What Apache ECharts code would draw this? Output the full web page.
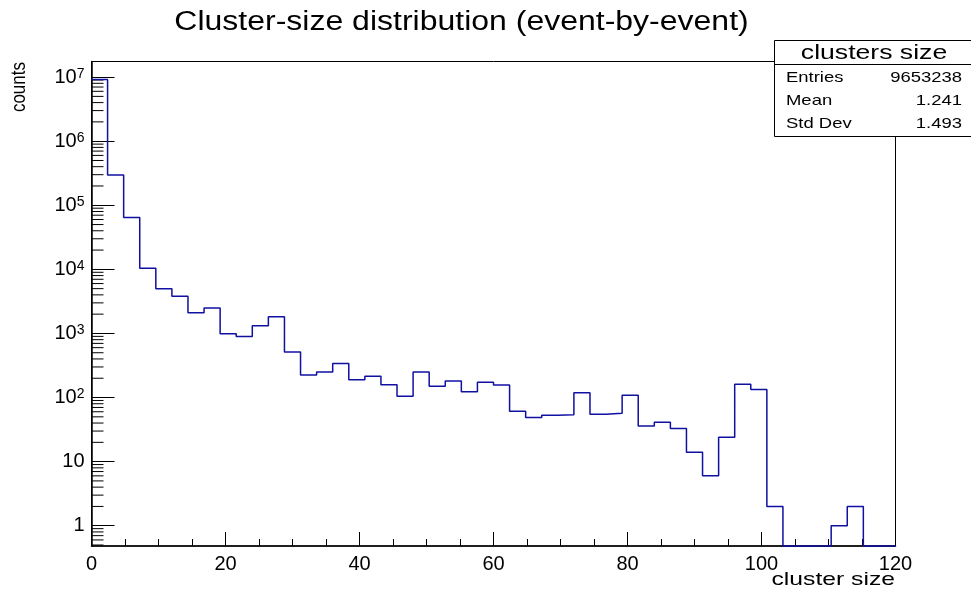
<!DOCTYPE html>
<html>
<head>
<meta charset="utf-8">
<title>Cluster-size distribution</title>
<script src="https://cdn.jsdelivr.net/npm/echarts@6/dist/echarts.min.js"></script>
<style>
  html, body { margin: 0; padding: 0; background: #fff; }
  #chart { width: 971px; height: 595px; }
</style>
</head>
<body>
<div id="chart"></div>
<script>
// Histogram binning: 50 bins of width 2.4 starting at 0
const binLow = 0;
const binWidth = 2.4;

// Counts per bin (0 = empty bin)
const counts = [
  9200000, 296000, 64700, 10400, 4980, 3800, 2100, 2490, 990, 900,
  1320, 1820, 513, 224, 250, 341, 190, 214, 158, 105,
  250, 150, 181, 123, 173, 157, 61, 49, 53, 54,
  119, 55, 57, 109, 36, 41, 33, 14, 6, 24,
  161, 134, 2, 0, 0, 0, 1, 2, 0, 0
];

// Statistics box
const statsTitle = 'clusters size';
const statsLabels = ['Entries', 'Mean', 'Std Dev'];
const statsValues = ['9653238', '1.241', '1.493'];

// Axis ranges and texts
const xRange = [0, 120];
const yRange = [0.4825, 1.751e7];
const chartTitle = 'Cluster-size distribution (event-by-event)';
const xTitle = 'cluster size';
const yTitle = 'counts';

const FONT = '"Liberation Sans", Arial, Helvetica, sans-serif';
const LINE_COLOR = '#1010a2';

// Step outline of the histogram: one point per lower bin edge, plus the final edge.
// Empty bins sit on the bottom of the log axis.
const floorOf = c => (c > 0 ? c : yRange[0]);
const edge = i => Math.round((binLow + i * binWidth) * 1000) / 1000;
const outline = counts.map((c, i) => [edge(i), floorOf(c)]);
outline.push([edge(counts.length), floorOf(counts[counts.length - 1])]);

// Minor log ticks (2..9 per decade) inside the axis range
const minorTicks = [];
for (let d = -1; d <= 7; d++) {
  for (let k = 2; k <= 9; k++) {
    const v = k * Math.pow(10, d);
    if (v > yRange[0] && v < yRange[1]) minorTicks.push([xRange[0], v]);
  }
}

const chart = echarts.init(document.getElementById('chart'), null, { renderer: 'canvas' });

const statsRowY = [77.7, 101, 124.3];
const statsGraphic = {
  type: 'group',
  z: 100,
  children: [
    { type: 'rect', shape: { x: 774.5, y: 40.5, width: 210, height: 96 },
      style: { fill: '#fff', stroke: '#000', lineWidth: 1 } },
    { type: 'line', shape: { x1: 774.5, y1: 64.5, x2: 971, y2: 64.5 },
      style: { stroke: '#000', lineWidth: 1 } },
    { type: 'text', x: 874, y: 53, scaleX: 1.33,
      style: { text: statsTitle, font: '20px ' + FONT, fill: '#000',
               align: 'center', verticalAlign: 'middle' } }
  ].concat(statsLabels.map((lab, i) => ({
    type: 'text', x: 786, y: statsRowY[i], scaleX: 1.23,
    style: { text: lab, font: '15px ' + FONT, fill: '#000', align: 'left', verticalAlign: 'middle' }
  }))).concat(statsValues.map((val, i) => ({
    type: 'text', x: 962, y: statsRowY[i], scaleX: 1.23,
    style: { text: val, font: '15px ' + FONT, fill: '#000', align: 'right', verticalAlign: 'middle' }
  })))
};

const option = {
  backgroundColor: '#fff',
  animation: false,
  grid: {
    left: 91.5, right: 75.5, top: 61.5, bottom: 49,
    show: true, borderColor: '#000', borderWidth: 1, backgroundColor: 'transparent'
  },
  graphic: [
    { type: 'text', x: 461.5, y: 23, scaleX: 1.185, z: 100,
      style: { text: chartTitle, font: '27px ' + FONT, fill: '#000',
               align: 'center', verticalAlign: 'middle' } },
    { type: 'text', x: 895, y: 580, scaleX: 1.3, z: 100,
      style: { text: xTitle, font: '19px ' + FONT, fill: '#000',
               align: 'right', verticalAlign: 'middle' } },
    { type: 'text', x: 20, y: 62, rotation: Math.PI / 2, scaleY: 1.15, z: 100,
      style: { text: yTitle, font: '17px ' + FONT, fill: '#000',
               align: 'right', verticalAlign: 'middle' } },
    statsGraphic
  ],
  xAxis: {
    type: 'value',
    min: xRange[0], max: xRange[1], interval: 20,
    axisLine: { show: true, onZero: false, lineStyle: { color: '#000', width: 1.5 } },
    axisTick: { show: true, inside: true, length: 14, lineStyle: { color: '#000', width: 1 } },
    minorTick: { show: true, splitNumber: 4, length: 7, lineStyle: { color: '#000', width: 1 } },
    axisLabel: { color: '#000', fontSize: 20, fontFamily: FONT, margin: 8 },
    splitLine: { show: false }
  },
  yAxis: {
    type: 'log',
    logBase: 10,
    min: yRange[0], max: yRange[1],
    splitNumber: 10,
    axisLine: { show: true, lineStyle: { color: '#000', width: 1.5 } },
    axisTick: { show: true, inside: true, length: 23, lineStyle: { color: '#000', width: 1 } },
    axisLabel: {
      color: '#000', fontSize: 20, fontFamily: FONT, margin: 7,
      showMinLabel: false, showMaxLabel: false,
      formatter: function (v) {
        const e = Math.round(Math.log10(v));
        if (e === 0) return '1';
        if (e === 1) return '10';
        return '10{sup|' + e + '}';
      },
      rich: {
        sup: { fontSize: 14, fontFamily: FONT, color: '#000', lineHeight: 14, verticalAlign: 'top' }
      }
    },
    splitLine: { show: false }
  },
  series: [
    {
      name: 'minor ticks',
      type: 'custom',
      silent: true,
      clip: false,
      encode: { x: 0, y: 1 },
      data: minorTicks,
      renderItem: function (params, api) {
        const p = api.coord([api.value(0), api.value(1)]);
        return {
          type: 'line',
          shape: { x1: p[0], y1: p[1], x2: p[0] + 12, y2: p[1] },
          style: { stroke: '#000', lineWidth: 1 }
        };
      }
    },
    {
      name: statsTitle,
      type: 'line',
      step: 'end',
      data: outline,
      showSymbol: false,
      symbol: 'none',
      clip: false,
      lineStyle: { color: LINE_COLOR, width: 1.5 },
      z: 5
    }
  ]
};

chart.setOption(option);
</script>
</body>
</html>
